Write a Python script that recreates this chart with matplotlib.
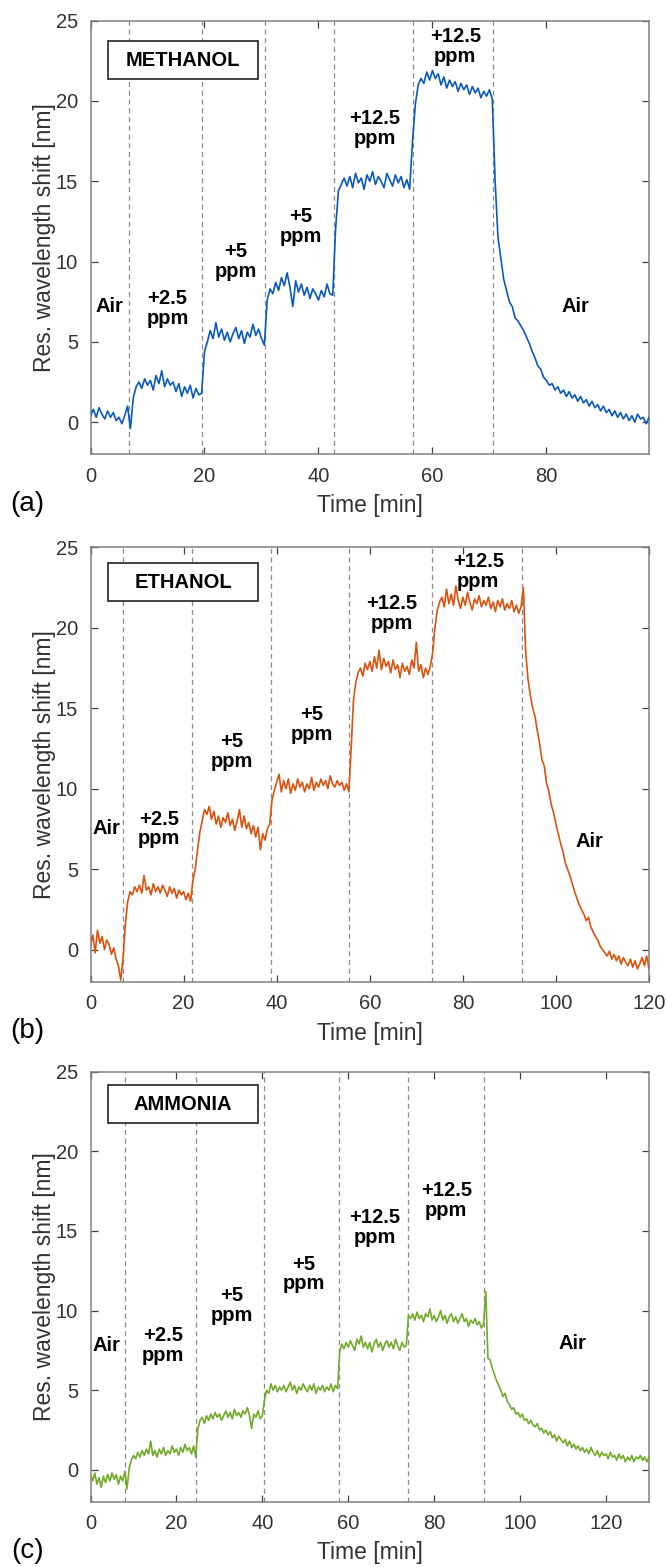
import numpy as np
import matplotlib
matplotlib.use("Agg")
import matplotlib.pyplot as plt
from matplotlib.patches import Rectangle

plt.rcParams['font.family'] = ['Liberation Sans', 'DejaVu Sans']

# ---- data (0.5 min sampling) ----
step = 0.5

# (a) methanol, 0..98 min
shift_methanol = [
    0.4, 0.8, 0.3, 0.9, 0.5, 0.2, 0.7, 0.3, 0.6, 0.1,
    0.3, -0.1, 0.4, 1.0, -0.4, 1.5, 2.2, 2.5, 2.1, 2.7,
    2.3, 2.6, 2.0, 2.9, 2.4, 3.2, 2.2, 2.7, 2.3, 2.5,
    1.9, 2.4, 1.6, 2.2, 1.8, 2.3, 1.5, 2.1, 1.7, 1.8,
    4.4, 5.0, 5.7, 5.2, 6.2, 5.3, 5.8, 5.1, 5.6, 5.0,
    5.5, 5.9, 5.2, 5.7, 4.9, 5.6, 5.3, 6.1, 5.4, 5.8,
    5.2, 4.8, 7.6, 8.3, 8.0, 8.7, 8.2, 9.0, 8.5, 9.3,
    8.4, 7.2, 8.8, 8.1, 8.6, 7.9, 8.4, 7.7, 8.3, 8.0,
    7.6, 8.2, 7.8, 8.6, 8.0, 7.9, 12.0, 14.4, 14.8, 15.2,
    14.7, 15.3, 14.6, 15.5, 14.9, 15.2, 14.5, 15.4, 15.0, 15.6,
    14.8, 15.3, 15.0, 14.6, 15.5, 15.1, 14.7, 15.4, 14.9, 15.3,
    14.6, 15.1, 14.5, 17.5, 19.8, 21.0, 21.4, 21.1, 21.8, 21.3,
    21.9, 21.4, 21.7, 21.0, 21.5, 20.8, 21.3, 20.9, 21.2, 20.6,
    21.1, 20.7, 21.0, 20.4, 20.9, 20.5, 20.8, 20.2, 20.6, 20.3,
    20.7, 20.1, 15.0, 11.5, 10.2, 8.9, 8.2, 7.5, 7.2, 6.5,
    6.3, 6.0, 5.7, 5.3, 4.9, 4.4, 4.0, 3.5, 3.3, 2.8,
    2.6, 2.3, 2.4, 2.0, 2.2, 1.8, 2.0, 1.6, 1.9, 1.5,
    1.7, 1.3, 1.6, 1.2, 1.4, 1.0, 1.3, 0.9, 1.1, 0.7,
    1.0, 0.6, 0.8, 0.4, 0.7, 0.3, 0.6, 0.2, 0.5, 0.1,
    0.4, 0.0, 0.5, 0.2, 0.3, -0.1, 0.3,
]

# (b) ethanol, 0..120 min
shift_ethanol = [
    0.3, 0.9, -0.2, 1.2, 0.4, 0.8, 0.0, 0.6, 0.3, -0.3,
    0.1, -0.6, -1.0, -1.9, -0.5, 1.6, 3.0, 3.6, 3.4, 3.9,
    3.6, 4.0, 3.5, 4.6, 3.7, 3.9, 3.4, 4.1, 3.6, 3.9,
    3.5, 4.0, 3.7, 3.3, 3.9, 3.5, 3.8, 3.2, 3.7, 3.4,
    3.6, 3.1, 3.5, 3.0, 4.3, 5.0, 6.2, 7.3, 8.0, 8.7,
    8.4, 8.9, 8.1, 8.6, 7.8, 8.3, 7.6, 8.2, 7.9, 8.5,
    7.7, 8.1, 7.4, 8.0, 8.7, 7.6, 8.3, 7.5, 7.9, 7.2,
    7.7, 7.0, 7.6, 6.2, 7.2, 6.8, 7.5, 7.8, 9.3, 9.9,
    10.4, 10.9, 9.8, 10.5, 10.0, 10.6, 9.7, 10.3, 9.9, 10.6,
    10.1, 10.4, 9.8, 10.3, 10.0, 10.7, 9.9, 10.4, 10.1, 10.6,
    10.2, 10.5, 10.0, 10.8, 10.3, 10.1, 10.5, 10.2, 10.4, 9.9,
    10.3, 9.8, 12.5, 15.5, 16.6, 17.2, 17.5, 17.0, 17.8, 17.4,
    17.9, 17.3, 18.2, 17.5, 18.6, 17.4, 18.1, 17.6, 17.9, 17.2,
    18.0, 17.4, 17.7, 16.9, 17.8, 17.3, 17.6, 17.1, 18.0, 17.5,
    19.1, 17.3, 17.7, 16.9, 17.5, 17.1, 17.6, 18.4, 20.0, 21.1,
    21.6, 21.9, 21.3, 22.4, 21.5, 22.1, 21.4, 22.6, 21.7, 21.2,
    21.9, 21.4, 22.2, 21.6, 21.1, 21.8, 21.5, 22.0, 21.3, 21.7,
    21.4, 21.9, 21.2, 21.6, 21.0, 21.7, 21.3, 21.8, 21.1, 21.5,
    21.2, 21.7, 21.0, 21.4, 20.9, 21.3, 22.5, 18.5, 16.8, 15.8,
    15.0, 14.5, 13.6, 12.8, 11.8, 11.4, 10.3, 9.8, 9.0, 8.5,
    7.8, 7.2, 6.6, 6.1, 5.4, 5.0, 4.6, 4.1, 3.6, 3.2,
    2.8, 2.5, 2.2, 1.8, 2.0, 1.4, 1.1, 0.8, 0.6, 0.2,
    0.0, -0.2, -0.4, -0.1, -0.6, -0.3, -0.7, -0.4, -0.9, -0.5,
    -0.8, -1.0, -0.6, -1.1, -0.7, -1.2, -0.9, -0.5, -1.0, -0.4,
    -1.2,
]

# (c) ammonia, 0..130 min
shift_ammonia = [
    -0.3, -0.7, -0.2, -0.9, -0.5, -1.1, -0.4, -0.8, -0.3, -0.7,
    -0.2, -0.6, -0.3, -0.9, -0.4, -0.7, -0.1, -1.2, 0.1, 0.6,
    0.9, 0.7, 1.1, 0.8, 1.2, 0.9, 1.3, 1.0, 1.8, 0.9,
    1.2, 0.8, 1.3, 1.0, 1.4, 0.9, 1.2, 1.0, 1.5, 1.1,
    1.3, 0.9, 1.4, 1.1, 1.6, 1.2, 1.4, 1.0, 1.5, 0.8,
    2.6, 3.1, 3.3, 2.9, 3.4, 3.1, 3.5, 3.2, 3.6, 3.3,
    3.5, 3.1, 3.4, 3.7, 3.3, 3.6, 3.2, 3.8, 3.4, 3.6,
    3.3, 3.7, 3.5, 3.9, 3.4, 2.6, 3.5, 3.3, 3.7, 3.2,
    3.4, 4.4, 5.0, 4.8, 5.4, 5.0, 5.3, 4.9, 5.2, 5.0,
    5.3, 4.9, 5.2, 5.5, 5.0, 5.3, 4.8, 5.2, 5.0, 5.4,
    5.1, 4.9, 5.3, 5.0, 5.4, 4.8, 5.2, 5.0, 5.3, 4.9,
    5.2, 5.0, 5.4, 4.9, 5.3, 5.1, 7.4, 7.9, 7.6, 8.0,
    7.7, 8.1, 7.8, 7.5, 8.2, 7.9, 8.4, 7.7, 8.0, 7.6,
    8.0, 7.4, 7.9, 8.2, 7.7, 8.0, 7.5, 7.9, 8.1, 7.7,
    8.0, 7.6, 8.2, 7.8, 7.5, 8.0, 7.7, 7.8, 9.7, 9.5,
    9.8, 9.4, 9.9, 9.5, 9.7, 9.3, 9.8, 9.6, 10.1, 9.4,
    9.7, 9.3, 9.6, 10.0, 9.4, 9.7, 9.2, 9.6, 9.8, 9.3,
    9.6, 9.2, 9.5, 9.8, 9.3, 9.5, 9.0, 9.4, 9.2, 9.5,
    9.1, 9.3, 8.9, 9.2, 11.2, 7.0, 6.9, 6.4, 6.0, 5.6,
    5.3, 5.0, 4.6, 4.8, 4.3, 4.1, 3.8, 3.9, 3.5, 3.6,
    3.3, 3.5, 3.1, 3.2, 2.9, 3.1, 2.8, 2.7, 2.9, 2.5,
    2.6, 2.3, 2.5, 2.2, 2.4, 2.0, 2.2, 1.8, 2.1, 1.9,
    1.7, 1.9, 1.5, 1.8, 1.4, 1.6, 1.3, 1.5, 1.2, 1.4,
    1.1, 1.3, 1.0, 1.4, 1.1, 0.9, 1.2, 0.8, 1.1, 0.9,
    1.0, 0.7, 1.1, 0.8, 0.9, 0.6, 1.0, 0.7, 0.9, 0.5,
    0.8, 0.6, 0.9, 0.5, 0.8, 0.7, 0.9, 0.6, 0.8, 0.5,
    0.8,
]

# gas switching times (dashed lines) [min]
switch_methanol = [6.8, 19.5, 30.6, 42.8, 56.5, 70.7]
switch_ethanol = [6.9, 21.7, 38.7, 55.6, 73.3, 92.8]
switch_ammonia = [8.1, 24.6, 40.4, 57.8, 73.9, 91.7]

step_labels = ['Air', '+2.5\nppm', '+5\nppm', '+5\nppm', '+12.5\nppm', '+12.5\nppm', 'Air']

# label positions (x, y) in data units
pos_methanol = [(3.4, 7.2), (13.5, 7.1), (25.5, 10.0), (36.9, 12.2), (49.9, 18.3), (64.0, 23.4), (85.1, 7.2)]
pos_ethanol = [(3.5, 7.5), (14.7, 7.5), (30.4, 12.3), (47.6, 14.0), (64.8, 20.9), (83.3, 23.5), (107.2, 6.7)]
pos_ammonia = [(3.8, 7.8), (16.9, 7.8), (32.9, 10.3), (49.6, 12.3), (66.1, 15.2), (82.8, 16.9), (112.2, 7.9)]

gases = ['METHANOL', 'ETHANOL', 'AMMONIA']
panel_tags = ['(a)', '(b)', '(c)']
colors = ['#0a5abc', '#d9530f', '#72aa2a']
xmax = [98, 120, 130]

series = [shift_methanol, shift_ethanol, shift_ammonia]
switches = [switch_methanol, switch_ethanol, switch_ammonia]
label_pos = [pos_methanol, pos_ethanol, pos_ammonia]

# axes rectangles in figure fractions (left, bottom, width, height)
rects = [
    (0.1359, 0.7101, 0.8386, 0.2767),
    (0.1359, 0.3735, 0.8386, 0.2772),
    (0.1359, 0.0417, 0.8386, 0.2744),
]
box_y = [(0.866, 0.952), (0.877, 0.963), (0.881, 0.968)]

fig = plt.figure(figsize=(6.66, 15.67), dpi=100)

for i in range(3):
    ax = fig.add_axes(rects[i])
    y = np.array(series[i])
    t = np.arange(len(y)) * step
    ax.plot(t, y, color=colors[i], lw=1.2, zorder=3)

    for xs in switches[i]:
        ax.axvline(xs, color='#8c8c8c', lw=0.9, ls=(0, (4, 3)), zorder=2)

    for txt, (px, py) in zip(step_labels, label_pos[i]):
        ax.text(px, py, txt, ha='center', va='center', fontsize=14.5,
                fontweight='bold', linespacing=1.05, zorder=4)

    b0, b1 = box_y[i]
    ax.add_patch(Rectangle((0.031, b0), 0.269, b1 - b0, transform=ax.transAxes,
                           facecolor='white', edgecolor='#222222', lw=1.2, zorder=5))
    ax.text(0.1655, (b0 + b1) / 2, gases[i], transform=ax.transAxes, ha='center',
            va='center', fontsize=14.5, fontweight='bold', zorder=6)

    ax.set_xlim(0, xmax[i])
    ax.set_ylim(-2, 25)
    ax.set_yticks([0, 5, 10, 15, 20, 25])
    ax.set_xticks(np.arange(0, xmax[i] + 1, 20))
    ax.tick_params(direction='in', top=True, right=True, length=5, width=0.9,
                   color='#404040', labelsize=14.5, labelcolor='#333333', pad=9)
    for sp in ax.spines.values():
        sp.set_color('#808080')
        sp.set_linewidth(1.1)
    ax.set_xlabel('Time [min]', fontsize=16.5, color='#333333', labelpad=6)
    ax.set_ylabel('Res. wavelength shift [nm]', fontsize=16.5, color='#333333', labelpad=0)

    l, bt, w, h = rects[i]
    fig.text(0.041, bt - 0.0315, panel_tags[i], fontsize=20, ha='center', va='center')

fig.savefig('out.png', dpi=100)
